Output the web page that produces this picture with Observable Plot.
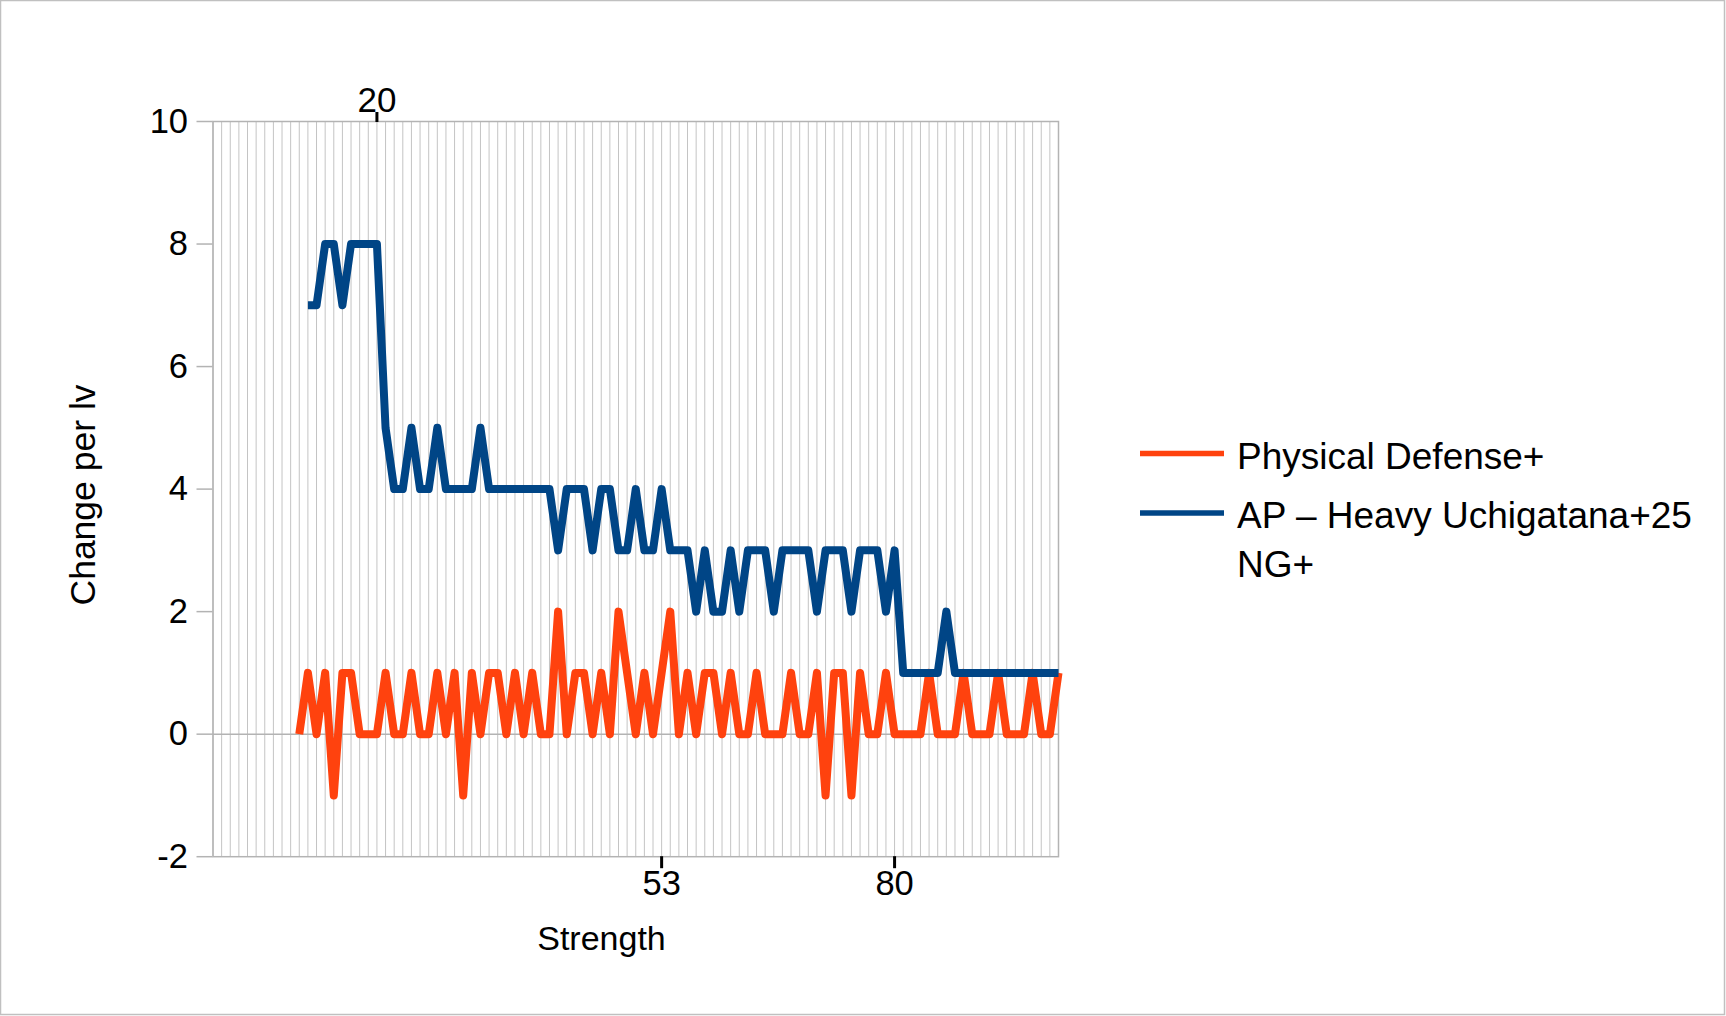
<!DOCTYPE html>
<html>
<head>
<meta charset="utf-8">
<script src="https://cdn.jsdelivr.net/npm/d3@7"></script>
<script src="https://cdn.jsdelivr.net/npm/@observablehq/plot@0.6"></script>
<style>
  html, body { margin: 0; padding: 0; background: white; }
  #wrap { position: relative; width: 1726px; height: 1016px; font-family: "Liberation Sans", Arial, sans-serif; }
  #overlay { position: absolute; left: 0; top: 0; pointer-events: none; }
</style>
</head>
<body>
<div id="wrap"></div>
<script>
// Strength values (x categories)
const physStrength = [11,12,13,14,15,16,17,18,19,20,21,22,23,24,25,26,27,28,29,30,31,32,33,34,35,36,37,38,39,40,41,42,43,44,45,46,47,48,49,50,51,52,53,54,55,56,57,58,59,60,61,62,63,64,65,66,67,68,69,70,71,72,73,74,75,76,77,78,79,80,81,82,83,84,85,86,87,88,89,90,91,92,93,94,95,96,97,98,99];
// Physical Defense+ change per level
const physValues = [0,1,0,1,-1,1,1,0,0,0, 1,0,0,1,0,0,1,0,1,-1, 1,0,1,1,0,1,0,1,0,0, 2,0,1,1,0,1,0,2,1,0, 1,0,1,2,0,1,0,1,1,0, 1,0,0,1,0,0,0,1,0,0, 1,-1,1,1,-1,1,0,0,1,0, 0,0,0,1,0,0,0,1,0,0, 0,1,0,0,0,1,0,0,1];

const apStrength = [12,13,14,15,16,17,18,19,20,21,22,23,24,25,26,27,28,29,30,31,32,33,34,35,36,37,38,39,40,41,42,43,44,45,46,47,48,49,50,51,52,53,54,55,56,57,58,59,60,61,62,63,64,65,66,67,68,69,70,71,72,73,74,75,76,77,78,79,80,81,82,83,84,85,86,87,88,89,90,91,92,93,94,95,96,97,98,99];
// AP – Heavy Uchigatana+25 NG+ change per level
const apValues = [7,7,8,8,7,8,8,8,8, 5,4,4,5,4,4,5,4,4,4, 4,5,4,4,4,4,4,4,4,4, 3,4,4,4,3,4,4,3,3,4, 3,3,4,3,3,3,2,3,2,2, 3,2,3,3,3,2,3,3,3,3, 2,3,3,3,2,3,3,3,2,3, 1,1,1,1,1,2,1,1,1,1, 1,1,1,1,1,1,1,1,1];

const yTicks = [-2, 0, 2, 4, 6, 8, 10];
const topXTicks = [20];
const bottomXTicks = [53, 80];
const gridTicks = d3.range(1, 100);

const seriesNames = ["Physical Defense+", "AP \u2013 Heavy Uchigatana+25", "NG+"];
const seriesColors = ["#ff420e", "#004586"];

const phys = physStrength.map((s, i) => ({strength: s, value: physValues[i]}));
const ap = apStrength.map((s, i) => ({strength: s, value: apValues[i]}));

const W = 1726, H = 1016;
const mL = 212.5, mR = 668, mT = 121, mB = 159.8;
const font = "Liberation Sans, Arial, sans-serif";

const chart = Plot.plot({
  width: W,
  height: H,
  marginLeft: mL,
  marginRight: mR,
  marginTop: mT,
  marginBottom: mB,
  x: {domain: [1, 99]},
  y: {domain: [-2, 10]},
  style: {fontFamily: font, fontSize: "34px", color: "black", background: "white", overflow: "visible"},
  marks: [
    Plot.gridX({ticks: gridTicks, stroke: "#c4c4c4", strokeOpacity: 1, strokeWidth: 1}),
    Plot.ruleY([0], {stroke: "#b3b3b3", strokeWidth: 1.5}),
    Plot.frame({stroke: "#b3b3b3", strokeWidth: 1.5}),
    Plot.axisY({ticks: yTicks, tickSize: 16, tickPadding: 9, stroke: "#b3b3b3", strokeWidth: 1.5, fontSize: 34.5, tickFormat: d => String(d), label: null}),
    Plot.axisX({anchor: "top", ticks: topXTicks, tickSize: 10, tickPadding: 0, stroke: "black", strokeWidth: 3, fontSize: 35, tickFormat: d => String(d), label: null}),
    Plot.axisX({anchor: "bottom", ticks: bottomXTicks, tickSize: 12, tickPadding: 2, stroke: "black", strokeWidth: 3, fontSize: 34.5, tickFormat: d => String(d), label: null}),
    Plot.line(phys, {x: "strength", y: "value", stroke: seriesColors[0], strokeWidth: 8, strokeLinejoin: "round", strokeLinecap: "butt"}),
    Plot.line(ap, {x: "strength", y: "value", stroke: seriesColors[1], strokeWidth: 8, strokeLinejoin: "round", strokeLinecap: "butt"}),
    Plot.text(["Strength"], {frameAnchor: "bottom", textAnchor: "middle", lineAnchor: "bottom", dx: 601 - (mL + (W - mR)) / 2, dy: 949 - (H - mB), fontSize: 34, fill: "black"}),
    Plot.text(["Change per lv"], {frameAnchor: "left", textAnchor: "start", lineAnchor: "bottom", rotate: -90, dx: 94 - mL, dy: 605 - (mT + (H - mB)) / 2, fontSize: 35.5, fill: "black"})
  ]
});

const wrap = document.getElementById("wrap");
wrap.appendChild(chart);

// Legend and page border overlay
const ov = d3.select(wrap).append("svg")
  .attr("id", "overlay")
  .attr("width", W).attr("height", H);

ov.append("rect").attr("x", 0.5).attr("y", 0.5).attr("width", 1724).attr("height", 1014)
  .attr("fill", "none").attr("stroke", "#c0c0c0").attr("stroke-width", 1.5);

const legendRows = [
  {color: seriesColors[0], lineY: 453.5, lines: [{text: seriesNames[0], y: 469}]},
  {color: seriesColors[1], lineY: 513, lines: [{text: seriesNames[1], y: 528}, {text: seriesNames[2], y: 577}]}
];
legendRows.forEach(r => {
  ov.append("line").attr("x1", 1140).attr("x2", 1224).attr("y1", r.lineY).attr("y2", r.lineY)
    .attr("stroke", r.color).attr("stroke-width", 5.5);
  r.lines.forEach(l => {
    ov.append("text").attr("x", 1237).attr("y", l.y)
      .attr("font-family", font).attr("font-size", 37).attr("fill", "black")
      .text(l.text);
  });
});
</script>
</body>
</html>
